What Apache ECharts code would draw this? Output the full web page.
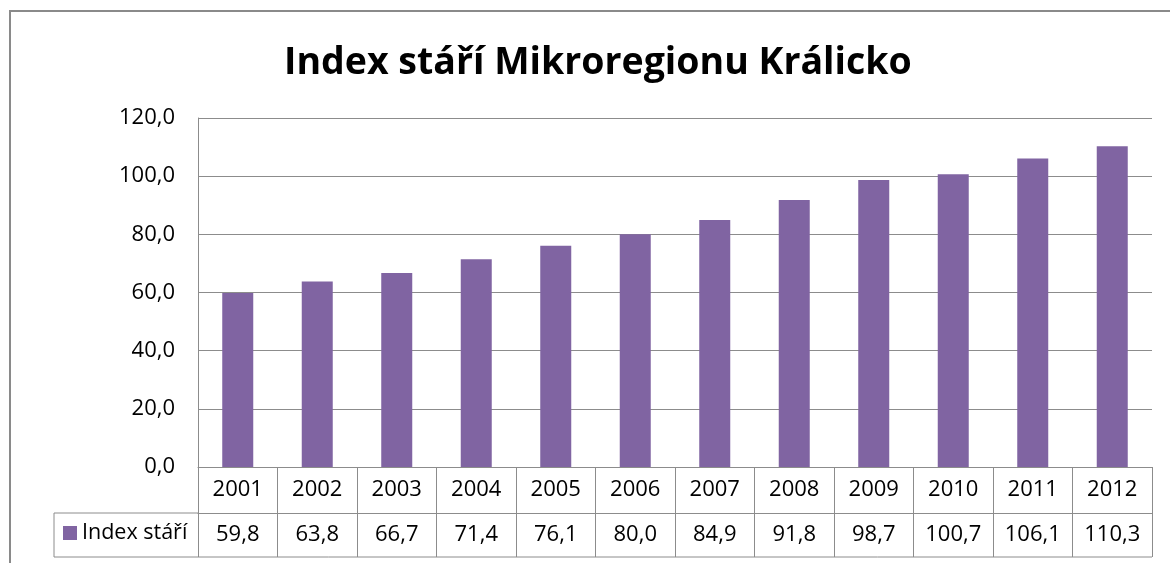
<!DOCTYPE html>
<html>
<head>
<meta charset="utf-8">
<script src="https://cdn.jsdelivr.net/npm/echarts@6/dist/echarts.min.js"></script>
<style>
html,body{margin:0;padding:0;background:#fff;}
#chart{width:1170px;height:563px;}
</style>
</head>
<body>
<div id="chart"></div>
<script>
// ---- data ----
const titleText = 'Index stáří Mikroregionu Králicko';
const seriesName = 'Index stáří';
const years = ['2001','2002','2003','2004','2005','2006','2007','2008','2009','2010','2011','2012'];
const values = [59.8, 63.8, 66.7, 71.4, 76.1, 80.0, 84.9, 91.8, 98.7, 100.7, 106.1, 110.3];
const yMin = 0, yMax = 120, yStep = 20;

// ---- layout ----
const W = 1170, H = 563;
const GL = 198, GR = 1152, GT = 118, GB = 467;
const ROW1 = 46, ROW2 = 44;
const TABLE_LEFT = 54;
const LINE = '#8c8c8c';
const FONT = '"Open Sans", sans-serif';
const fmt = v => v.toFixed(1).replace('.', ',');

const chart = echarts.init(document.getElementById('chart'), null, {renderer: 'canvas'});
chart.setOption({
  animation: false,
  backgroundColor: '#fff',
  textStyle: {fontFamily: FONT},
  title: {
    text: titleText,
    left: 284,
    top: 44,
    padding: 0,
    textStyle: {fontFamily: FONT, fontSize: 37.5, fontWeight: 'bold', color: '#000'}
  },
  legend: {
    data: [seriesName],
    left: 63,
    top: 522,
    padding: 0,
    icon: 'rect',
    itemWidth: 14,
    itemHeight: 14,
    textStyle: {fontFamily: FONT, fontSize: 21.5, color: '#000'}
  },
  grid: {left: GL, right: W - GR, top: GT, bottom: H - GB, containLabel: false},
  xAxis: [
    {
      type: 'category', data: years, position: 'bottom',
      axisLine: {show: true, lineStyle: {color: LINE, width: 1}},
      axisTick: {show: true, length: ROW1 + ROW2, lineStyle: {color: LINE}},
      axisLabel: {fontFamily: FONT, fontSize: 22, color: '#000', margin: 12}
    },
    {
      type: 'category', data: years, position: 'bottom', offset: ROW1,
      axisLine: {show: true, lineStyle: {color: LINE, width: 1}},
      axisTick: {show: false},
      axisLabel: {fontFamily: FONT, fontSize: 22, color: '#000', margin: 11,
        formatter: (v, i) => fmt(values[i])}
    }
  ],
  yAxis: {
    type: 'value', min: yMin, max: yMax, interval: yStep,
    axisLine: {show: true, lineStyle: {color: LINE}},
    axisTick: {show: false},
    splitLine: {lineStyle: {color: LINE, width: 1}},
    axisLabel: {fontFamily: FONT, fontSize: 22, color: '#000', margin: 23, formatter: fmt}
  },
  series: [{
    name: seriesName, type: 'bar', data: values, xAxisIndex: 0,
    barWidth: '39%', itemStyle: {color: '#8064A2'}
  }],
  graphic: [
    {type: 'rect', silent: true, z: -1,
      shape: {x: 10, y: 11, width: W, height: H},
      style: {fill: 'none', stroke: '#8a8a8a', lineWidth: 2}},
    {type: 'polyline', silent: true,
      shape: {points: [[GL, GB + ROW1], [TABLE_LEFT, GB + ROW1], [TABLE_LEFT, GB + ROW1 + ROW2], [GR, GB + ROW1 + ROW2]]},
      style: {fill: 'none', stroke: LINE, lineWidth: 1}}
  ]
});
</script>
</body>
</html>
